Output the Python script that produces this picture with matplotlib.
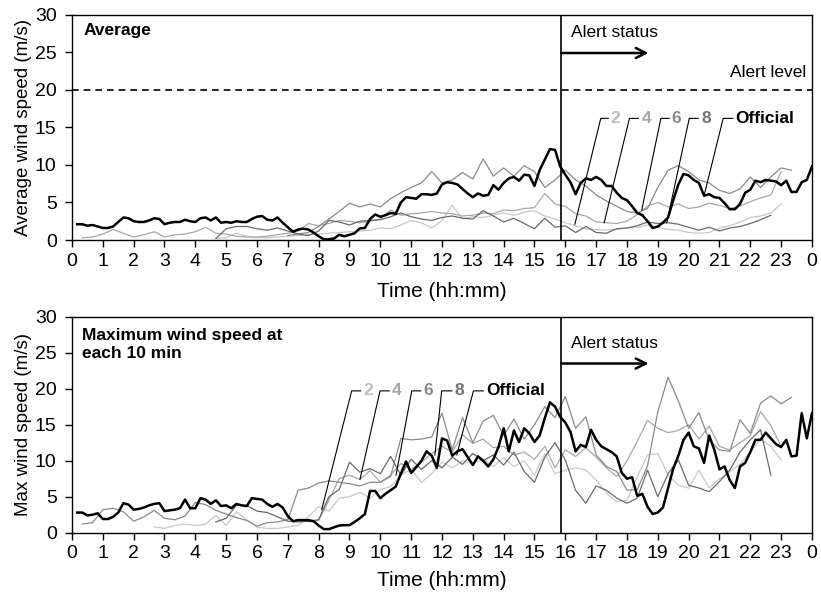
import numpy as np
import matplotlib
matplotlib.use('Agg')
import matplotlib.pyplot as plt

nan = np.nan

# horas del eje x
HOUR_TICKS = list(range(25))
HOUR_LABELS = ['0', '1', '2', '3', '4', '5', '6', '7', '8', '9', '10', '11', '12',
               '13', '14', '15', '16', '17', '18', '19', '20', '21', '22', '23', '0']

# oficial cada 10 min, sensores cada 20 min
t_official = np.arange(1, 145) / 6
t_sensor = np.arange(1, 73) / 3

avg_official = [
    2.1, 2.1, 1.9, 2.0, 1.8, 1.6,
    1.6, 1.8, 2.4, 3.0, 2.9, 2.5,
    2.4, 2.4, 2.6, 2.9, 2.8, 2.1,
    2.3, 2.4, 2.4, 2.7, 2.5, 2.4,
    2.9, 3.0, 2.6, 3.0, 2.3, 2.4,
    2.3, 2.5, 2.4, 2.4, 2.8, 3.1,
    3.2, 2.7, 2.6, 3.0, 2.3, 1.7,
    1.1, 1.4, 1.5, 1.4, 1.0, 0.5,
    0.1, 0.1, 0.2, 0.7, 0.5, 0.7,
    0.9, 1.55, 1.6, 2.8, 3.4, 3.1,
    3.3, 3.6, 3.5, 5.0, 5.7, 5.6,
    5.5, 6.1, 6.1, 6.0, 6.2, 7.4,
    7.7, 7.6, 7.4, 6.8, 6.2, 5.7,
    6.2, 5.9, 6.0, 7.3, 6.7, 7.6,
    8.2, 8.4, 7.9, 8.7, 8.6, 7.2,
    9.3, 10.7, 12.1, 12.0, 9.8, 8.7,
    7.7, 6.1, 7.6, 8.2, 8.0, 8.4,
    8.0, 7.2, 7.2, 6.3, 5.6, 5.3,
    4.5, 3.6, 3.3, 2.5, 1.6, 1.8,
    2.3, 3.0, 5.3, 7.4, 8.8, 8.6,
    8.0, 7.6, 5.9, 6.1, 5.7, 5.6,
    4.9, 4.1, 4.1, 4.8, 6.3, 6.7,
    7.9, 7.7, 8.0, 7.9, 7.8, 7.3,
    7.9, 6.4, 6.4, 7.7, 8.0, 9.8,
]

avg_2 = [
    nan, nan, nan,  nan, nan, nan,  nan, nan, nan,  nan, nan, nan,
    nan, 0.2, 0.3,  0.9, 0.5, 0.3,  0.3, 0.4, 0.5,  0.6, 0.7, 0.8,
    0.9, 1.0, 1.1,  1.2, 1.3, 1.6,  1.5, 2.0, 2.6,  2.3, 1.6, 2.6,
    4.6, 2.8, 3.1,  3.0, 3.3, 3.6,  3.3, 3.7, 3.9,  3.2, 2.8, 2.3,
    1.9, 1.5, 1.4,  1.3, 1.4, 1.6,  1.7, 2.0, 1.7,  1.4, 1.3, 1.0,
    0.9, 1.0, 1.6,  1.9, 2.4, 3.0,  3.2, 3.6, 4.8,  nan, nan, nan,
]
avg_4 = [
    0.3, 0.4, 0.8,  1.4, 0.9, 0.4,  0.7, 1.1, 0.4,  0.7, 0.8, 1.1,
    1.7, 0.9, 0.8,  0.5, 0.4, 0.4,  0.5, 0.7, 0.9,  1.2, 2.2, 1.9,
    2.2, 2.6, 2.5,  2.3, 2.5, 2.8,  4.0, 3.3, 3.5,  3.6, 3.8, 3.6,
    3.5, 3.2, 3.3,  3.6, 3.5, 4.0,  3.9, 4.2, 4.3,  6.2, 4.8, 4.5,
    3.5, 3.2, 2.4,  2.3, 2.2, 2.5,  3.4, 4.5, 5.0,  4.4, 4.8, 4.2,
    4.4, 4.9, 4.6,  4.2, 4.5, 5.1,  5.6, 6.0, 9.1,  nan, nan, nan,
]
avg_6 = [
    nan, nan, nan,  nan, nan, nan,  nan, nan, nan,  nan, nan, nan,
    nan, nan, nan,  nan, nan, nan,  nan, nan, 0.6,  0.8, 1.0, 1.8,
    2.8, 3.8, 4.9,  4.4, 4.8, 4.4,  5.5, 6.3, 7.0,  7.6, 9.1, 7.6,
    8.0, 9.0, 8.1,  10.8, 8.5, 9.6,  8.5, 9.9, 9.1,  7.0, 8.0, 9.3,
    8.0, 7.2, 6.0,  5.2, 4.5, 3.8,  3.6, 4.2, 7.0,  9.3, 9.9, 9.1,
    8.0, 7.6, 6.6,  6.2, 6.8, 8.4,  7.0, 8.4, 9.6,  9.3, nan, nan,
]
avg_8 = [
    nan, nan, nan,  nan, nan, nan,  nan, nan, nan,  nan, nan, nan,
    nan, 0.2, 1.5,  1.8, 1.8, 1.5,  1.3, 1.6, 1.2,  0.8, 0.6, 1.2,
    2.6, 2.4, 2.0,  2.5, 2.6, 2.7,  3.1, 3.6, 3.1,  2.8, 2.6, 3.0,
    3.2, 2.9, 2.8,  3.9, 3.2, 2.4,  2.9, 2.2, 1.5,  2.9, 1.7, 1.9,
    1.0, 1.8, 1.0,  0.9, 1.5, 1.6,  1.9, 2.4, 2.2,  2.3, 2.1, 1.7,
    1.3, 1.7, 1.2,  1.6, 1.8, 2.2,  2.7, 3.3, nan,  nan, nan, nan,
]

max_official = [
    2.8, 2.8, 2.4, 2.5, 2.7, 1.9,
    1.9, 2.2, 2.8, 4.1, 3.9, 3.2,
    3.3, 3.5, 3.8, 4.0, 4.1, 3.0,
    3.1, 3.2, 3.4, 4.6, 3.4, 3.4,
    4.8, 4.6, 4.0, 4.5, 3.7, 3.8,
    3.4, 4.0, 3.8, 3.7, 4.8, 4.7,
    4.6, 4.0, 3.6, 4.0, 3.5, 2.3,
    1.6, 1.75, 1.75, 1.75, 1.6, 1.0,
    0.5, 0.5, 0.75, 1.0, 1.05, 1.05,
    1.5, 2.0, 2.6, 5.8, 5.8, 4.8,
    5.4, 5.9, 6.4, 8.2, 9.9, 8.3,
    9.1, 10.0, 11.3, 10.7, 9.0, 13.1,
    12.8, 10.7, 11.3, 11.6, 10.5, 9.4,
    10.6, 10.0, 9.2, 10.2, 11.9, 14.5,
    11.3, 14.2, 12.6, 14.5, 13.8, 12.6,
    13.5, 15.9, 18.1, 17.5, 16.1, 15.3,
    14.0, 11.3, 12.2, 11.9, 14.3, 12.9,
    12.0, 11.6, 11.2, 10.6, 8.3, 7.5,
    7.7, 5.1, 5.4, 3.6, 2.6, 2.8,
    3.5, 6.2, 8.9, 10.7, 12.9, 13.9,
    12.0, 11.7, 9.7, 13.5, 11.5, 8.8,
    9.2, 7.3, 6.2, 9.2, 9.7, 11.2,
    12.9, 12.9, 13.9, 13.1, 12.3, 11.9,
    12.9, 10.6, 10.7, 16.6, 13.1, 16.6,
]

max_2 = [
    nan, nan, nan,  nan, nan, nan,  nan, 0.8, 0.6,  1.0, 1.2, 1.0,
    1.2, 2.4, 1.0,  2.9, 1.8, 0.8,  0.6, 0.6, 0.8,  1.0, 2.2, 3.6,
    3.0, 4.8, 5.0,  5.6, 4.8, 6.0,  6.4, 8.0, 8.8,  7.0, 8.2, 9.8,
    9.0, 10.0, 9.6,  10.2, 9.2, 10.4,  9.2, 10.0, 8.0,  11.0, 8.2, 8.7,
    9.0, 8.7, 7.3,  5.5, 4.3, 4.5,  7.8, 10.8, 11.0,  8.0, 6.6, 6.2,
    8.7, 6.2, 7.5,  8.5, 9.5, 11.2,  13.0, 12.0, 10.1,  nan, nan, nan,
]
max_4 = [
    nan, nan, nan,  nan, nan, nan,  nan, nan, nan,  nan, nan, nan,
    nan, nan, nan,  nan, nan, nan,  nan, nan, nan,  nan, 1.5, 1.7,
    4.5, 7.5, 8.0,  7.4, 8.6, 7.0,  8.0, 9.6, 8.8,  9.8, 11.0, 12.0,
    11.2, 13.6, 12.4,  13.0, 11.8, 12.0,  10.8, 11.2, 10.2,  12.0, 9.0, 11.5,
    10.6, 11.8, 10.5,  9.0, 7.8, 10.0,  12.7, 15.6, 14.5,  13.9, 14.2, 15.0,
    13.0, 14.8, 12.0,  11.5, 12.5, 13.5,  16.8, 14.9, 12.0,  nan, nan, nan,
]
max_6 = [
    1.2, 1.4, 3.2,  3.4, 2.9, 1.6,  2.2, 3.1, 2.0,  1.8, 2.3, 4.2,
    3.9, 3.1, 2.6,  2.1, 1.7, 0.9,  1.4, 1.5, 1.8,  5.9, 6.2, 6.9,
    7.2, 7.0, 6.8,  6.5, 7.0, 7.0,  7.8, 13.1, 12.9,  13.0, 13.3, 16.6,
    11.5, 16.0, 12.5,  15.5, 16.3, 13.5,  15.8, 13.0, 15.0,  17.5, 16.0, 18.9,
    14.5, 16.1, 10.8,  9.2, 8.5, 5.9,  6.0, 9.3, 16.8,  21.6, 18.3, 14.5,
    16.7, 12.8, 11.5,  11.3, 15.7, 13.8,  18.0, 19.0, 17.9,  18.8, nan, nan,
]
max_8 = [
    nan, nan, nan,  nan, nan, nan,  nan, nan, nan,  nan, nan, nan,
    nan, 1.5, 2.0,  3.8, 3.8, 3.0,  2.8, 2.2, 1.6,  1.5, 1.6, 1.8,
    5.0, 6.0, 9.8,  8.4, 8.9, 8.2,  10.6, 8.0, 10.2,  8.8, 10.0, 9.0,
    10.5, 9.5, 11.0,  10.0, 10.8, 9.4,  11.2, 8.5, 7.0,  10.5, 12.5, 10.1,
    5.9, 4.1, 6.5,  5.9, 4.8, 4.1,  4.8, 8.7, 5.0,  8.2, 10.1, 6.6,
    6.2, 5.7, 7.1,  8.7, 11.2, 12.9,  14.3, 8.0, nan,  nan, nan, nan,
]

SENSOR_NAMES = ['2', '4', '6', '8']
SENSOR_COLORS = ['#c8c8c8', '#a8a8a8', '#8a8a8a', '#6a6a6a']
LABEL_COLORS = ['#bdbdbd', '#a6a6a6', '#8c8c8c', '#737373']

ALERT_TIME = 15.87
ALERT_LEVEL = 20

plt.rcParams['font.family'] = ['Liberation Sans', 'DejaVu Sans']

fig = plt.figure(figsize=(8.21, 5.96), dpi=100)
ax1 = fig.add_axes([0.0877, 0.5973, 0.9013, 0.378])
ax2 = fig.add_axes([0.0877, 0.1062, 0.9013, 0.3624])


def draw_panel(ax, sensors, official, ylabel):
    for vals, col in zip(sensors, SENSOR_COLORS):
        ax.plot(t_sensor, vals, color=col, lw=0.9)
    ax.plot(t_official, official, color='black', lw=1.8)
    ax.axvline(ALERT_TIME, color='black', lw=1.2)
    ax.set_xlim(0, 24)
    ax.set_ylim(0, 30)
    ax.set_xticks(HOUR_TICKS)
    ax.set_xticklabels(HOUR_LABELS)
    ax.set_yticks([0, 5, 10, 15, 20, 25, 30])
    ax.tick_params(axis='x', direction='out', length=5, width=1, labelsize=14, pad=4)
    ax.tick_params(axis='y', direction='out', length=5, width=1, labelsize=14, pad=6)
    ax.set_xlabel('Time (hh:mm)', fontsize=15)
    ax.set_ylabel(ylabel, fontsize=13.5)
    ax.yaxis.set_label_coords(-0.054, 0.5)
    for s in ax.spines.values():
        s.set_linewidth(1)


def draw_labels(ax, y_text, items):
    # etiquetas con linea guia
    for (name, col), (xa, xb, xt, xp, yp) in zip(items, LEADERS[ax]):
        ax.plot([xp, xa, xb], [yp, y_text, y_text], color='black', lw=0.8)
        ax.text(xt, y_text, name, color=col, fontsize=12.5, fontweight='bold',
                ha='left', va='center')


draw_panel(ax1, [avg_2, avg_4, avg_6, avg_8], avg_official, 'Average wind speed (m/s)')
draw_panel(ax2, [max_2, max_4, max_6, max_8], max_official, 'Max wind speed (m/s)')
ax1.xaxis.set_label_coords(0.5, -0.185)
ax2.xaxis.set_label_coords(0.5, -0.175)

# nivel de alerta
ax1.axhline(ALERT_LEVEL, color='black', ls='--', lw=1.2, dashes=(4, 3))
ax1.text(23.8, 22.3, 'Alert level', fontsize=12.5, ha='right', va='center')

# estado de alerta
ax1.text(16.17, 27.6, 'Alert status', fontsize=12.5, ha='left', va='center')
ax1.annotate('', xy=(18.7, 24.9), xytext=(ALERT_TIME, 24.9),
             arrowprops=dict(arrowstyle='->', lw=1.8, color='black', mutation_scale=18,
                             shrinkA=0, shrinkB=0))
ax2.text(16.17, 26.3, 'Alert status', fontsize=12.5, ha='left', va='center')
ax2.annotate('', xy=(18.7, 23.5), xytext=(ALERT_TIME, 23.5),
             arrowprops=dict(arrowstyle='->', lw=1.8, color='black', mutation_scale=18,
                             shrinkA=0, shrinkB=0))

ax1.text(0.0153, 0.93, 'Average', transform=ax1.transAxes, fontsize=12.5,
         fontweight='bold', ha='left', va='center')
ax2.text(0.013, 0.95, 'Maximum wind speed at\neach 10 min', transform=ax2.transAxes,
         fontsize=12.5, fontweight='bold', ha='left', va='top', linespacing=1.3)

LEADERS = {
    ax1: [(17.15, 17.39, 17.47, 16.31, 2.1),
          (18.08, 18.37, 18.48, 17.26, 2.3),
          (19.10, 19.37, 19.45, 18.48, 4.0),
          (20.02, 20.31, 20.42, 19.29, 2.3),
          (21.12, 21.43, 21.50, 20.50, 5.9)],
    ax2: [(9.07, 9.36, 9.45, 8.10, 3.2),
          (9.99, 10.29, 10.37, 9.34, 7.4),
          (11.02, 11.31, 11.40, 10.51, 8.0),
          (11.99, 12.32, 12.39, 11.77, 10.8),
          (13.02, 13.34, 13.42, 12.48, 10.8)],
}
items = list(zip(SENSOR_NAMES, LABEL_COLORS)) + [('Official', 'black')]
draw_labels(ax1, 16.2, items)
draw_labels(ax2, 19.7, items)

fig.savefig('out.png', dpi=100)
